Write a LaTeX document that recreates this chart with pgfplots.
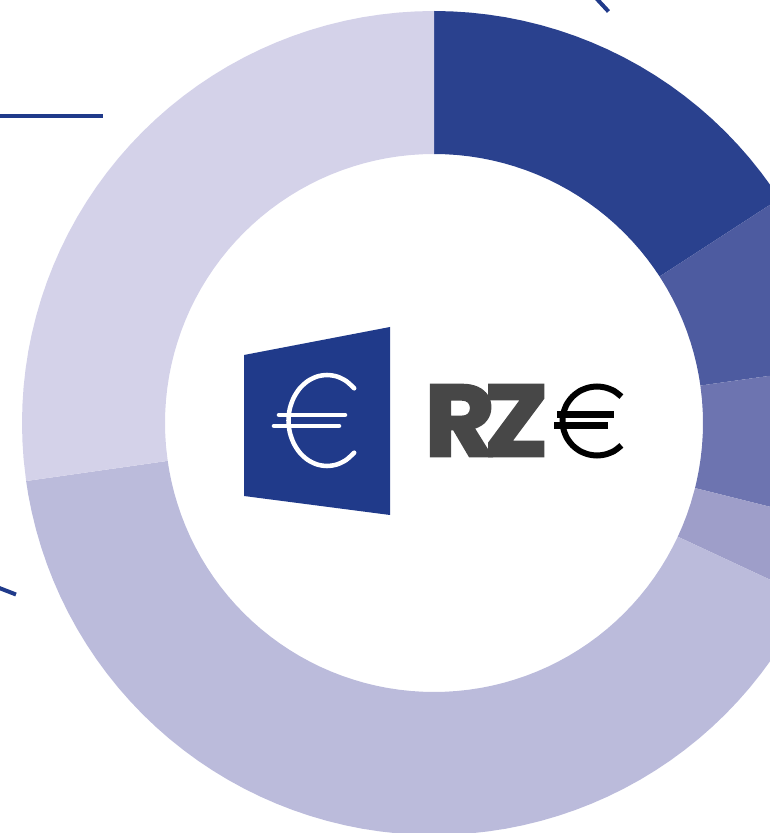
\documentclass[border=0pt]{standalone}
\usepackage{fontspec}
\usepackage{graphicx}
\usepackage{pgfplots}
\pgfplotsset{compat=1.18}
\newfontfamily\rzfont[FakeBold=2.5]{Poppins Bold}
\definecolor{sliceA}{HTML}{2A418E}
\definecolor{sliceB}{HTML}{4D5BA0}
\definecolor{sliceC}{HTML}{6D74B0}
\definecolor{sliceD}{HTML}{9E9EC9}
\definecolor{sliceE}{HTML}{BBBBDB}
\definecolor{sliceF}{HTML}{D4D2E9}
\definecolor{logoblue}{HTML}{203A8A}
\definecolor{rzgrey}{HTML}{474747}
\begin{document}
\begin{tikzpicture}
\begin{axis}[
  x=0.75pt, y=0.75pt, scale only axis,
  xmin=-434, xmax=336, ymin=-410, ymax=423,
  hide axis, clip=true,
]
% ring slices, polar: angle, radius
\addplot[fill=sliceA, draw=none, data cs=polar] coordinates {
 (90,412)(87.5,412)(85,412)(82.5,412)(80,412)(77.5,412)(75,412)(72.5,412)(70,412)(67.5,412)(65,412)(62.5,412)(60,412)(57.5,412)(55,412)(52.5,412)(50,412)(47.5,412)(45,412)(42.5,412)(40,412)(37.5,412)(35,412)(33,412)
 (33,269)(35,269)(37.5,269)(40,269)(42.5,269)(45,269)(47.5,269)(50,269)(52.5,269)(55,269)(57.5,269)(60,269)(62.5,269)(65,269)(67.5,269)(70,269)(72.5,269)(75,269)(77.5,269)(80,269)(82.5,269)(85,269)(87.5,269)(90,269)} --cycle;
\addplot[fill=sliceB, draw=none, data cs=polar] coordinates {
 (33,412)(30,412)(27.5,412)(25,412)(22.5,412)(20,412)(17.5,412)(15,412)(12.5,412)(10,412)(8,412)
 (8,269)(10,269)(12.5,269)(15,269)(17.5,269)(20,269)(22.5,269)(25,269)(27.5,269)(30,269)(33,269)} --cycle;
\addplot[fill=sliceC, draw=none, data cs=polar] coordinates {
 (8,412)(5,412)(2.5,412)(0,412)(-2.5,412)(-5,412)(-7.5,412)(-10,412)(-12.5,412)(-14,412)
 (-14,269)(-12.5,269)(-10,269)(-7.5,269)(-5,269)(-2.5,269)(0,269)(2.5,269)(5,269)(8,269)} --cycle;
\addplot[fill=sliceD, draw=none, data cs=polar] coordinates {
 (-14,412)(-17.5,412)(-20,412)(-22.5,412)(-25,412)
 (-25,269)(-22.5,269)(-20,269)(-17.5,269)(-14,269)} --cycle;
\addplot[fill=sliceE, draw=none, data cs=polar] coordinates {
 (-25,412)(-27.5,412)(-30,412)(-32.5,412)(-35,412)(-37.5,412)(-40,412)(-42.5,412)(-45,412)(-47.5,412)(-50,412)(-52.5,412)(-55,412)(-57.5,412)(-60,412)(-62.5,412)(-65,412)(-67.5,412)(-70,412)(-72.5,412)(-75,412)(-77.5,412)(-80,412)(-82.5,412)(-85,412)(-87.5,412)(-90,412)
 (-92.5,412)(-95,412)(-97.5,412)(-100,412)(-102.5,412)(-105,412)(-107.5,412)(-110,412)(-112.5,412)(-115,412)(-117.5,412)(-120,412)(-122.5,412)(-125,412)(-127.5,412)(-130,412)(-132.5,412)(-135,412)(-137.5,412)(-140,412)(-142.5,412)(-145,412)(-147.5,412)(-150,412)(-152.5,412)(-155,412)(-157.5,412)(-160,412)(-162.5,412)(-165,412)(-167.5,412)(-170,412)(-171.9,412)
 (-171.9,269)(-170,269)(-167.5,269)(-165,269)(-162.5,269)(-160,269)(-157.5,269)(-155,269)(-152.5,269)(-150,269)(-147.5,269)(-145,269)(-142.5,269)(-140,269)(-137.5,269)(-135,269)(-132.5,269)(-130,269)(-127.5,269)(-125,269)(-122.5,269)(-120,269)(-117.5,269)(-115,269)(-112.5,269)(-110,269)(-107.5,269)(-105,269)(-102.5,269)(-100,269)(-97.5,269)(-95,269)(-92.5,269)
 (-90,269)(-87.5,269)(-85,269)(-82.5,269)(-80,269)(-77.5,269)(-75,269)(-72.5,269)(-70,269)(-67.5,269)(-65,269)(-62.5,269)(-60,269)(-57.5,269)(-55,269)(-52.5,269)(-50,269)(-47.5,269)(-45,269)(-42.5,269)(-40,269)(-37.5,269)(-35,269)(-32.5,269)(-30,269)(-27.5,269)(-25,269)} --cycle;
\addplot[fill=sliceF, draw=none, data cs=polar] coordinates {
 (188.1,412)(185,412)(182.5,412)(180,412)(177.5,412)(175,412)(172.5,412)(170,412)(167.5,412)(165,412)(162.5,412)(160,412)(157.5,412)(155,412)(152.5,412)(150,412)(147.5,412)(145,412)(142.5,412)(140,412)(137.5,412)(135,412)(132.5,412)(130,412)(127.5,412)(125,412)(122.5,412)(120,412)(117.5,412)(115,412)(112.5,412)(110,412)(107.5,412)(105,412)(102.5,412)(100,412)(97.5,412)(95,412)(92.5,412)(90,412)
 (90,269)(92.5,269)(95,269)(97.5,269)(100,269)(102.5,269)(105,269)(107.5,269)(110,269)(112.5,269)(115,269)(117.5,269)(120,269)(122.5,269)(125,269)(127.5,269)(130,269)(132.5,269)(135,269)(137.5,269)(140,269)(142.5,269)(145,269)(147.5,269)(150,269)(152.5,269)(155,269)(157.5,269)(160,269)(162.5,269)(165,269)(167.5,269)(170,269)(172.5,269)(175,269)(177.5,269)(180,269)(182.5,269)(185,269)(188.1,269)} --cycle;
% leader lines
\addplot[logoblue, line width=3pt] coordinates {(-434,307)(-331,307)};
\addplot[logoblue, line width=3pt] coordinates {(162,425)(174.5,411.5)};
\addplot[logoblue, line width=3pt] coordinates {(-436,-164.5)(-418,-171.5)};
% logo tile
\addplot[fill=logoblue, draw=none] coordinates {(-190,68)(-44,96)(-44,-92)(-190,-73)} --cycle;
\addplot[white, smooth, line width=3.4pt, line cap=round] coordinates {
 (-79.8,34.7)(-87.75,41.9)(-97,46.45)(-107,48)(-117,46.45)(-126.25,41.9)(-134.2,34.7)(-140.3,25.25)(-144.2,14.3)(-145.5,2.5)(-144.2,-9.3)(-140.3,-20.25)(-134.2,-29.7)(-126.25,-36.9)(-117,-41.45)(-107,-43)(-97,-41.45)(-87.75,-36.9)(-79.8,-29.7)};
\addplot[white, line width=3.4pt, line cap=round] coordinates {(-155,8)(-89,8)};
\addplot[white, line width=3.4pt, line cap=round] coordinates {(-160,-3)(-95,-3)};
% wordmark
\node[inner sep=0pt, text=rzgrey] at (axis cs:52.5,2.5)
  {\resizebox{93pt}{53.3pt}{\rzfont R\kern-.1em Z}};
\addplot[black, smooth, line width=4.5pt] coordinates {
 (187.4,26.4)(180.25,31.9)(171.9,35.3)(163,36.5)(154.1,35.3)(145.75,31.9)(138.6,26.4)(133.1,19.25)(129.7,10.9)(128.5,2)(129.7,-6.9)(133.1,-15.25)(138.6,-22.4)(145.75,-27.9)(154.1,-31.3)(163,-32.5)(171.9,-31.3)(180.25,-27.9)(187.4,-22.4)};
\addplot[black, line width=5pt] coordinates {(123,8.7)(180,8.7)};
\addplot[black, line width=5pt] coordinates {(120,-2.5)(174,-2.5)};
\end{axis}
\end{tikzpicture}
\end{document}
